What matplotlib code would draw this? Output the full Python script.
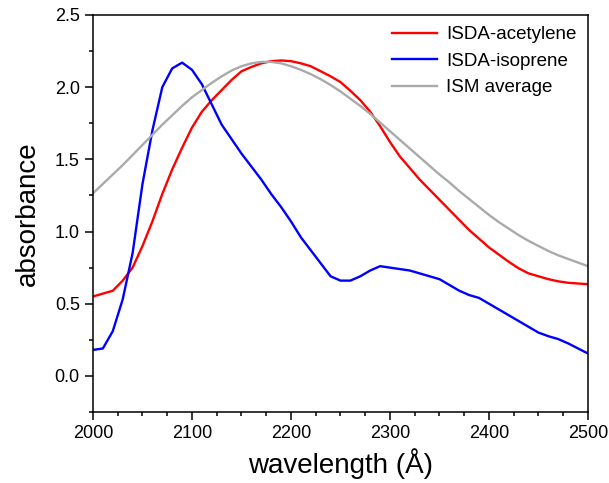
import numpy as np
import matplotlib
matplotlib.use("Agg")
import matplotlib.pyplot as plt
from matplotlib.ticker import MultipleLocator

plt.rcParams["font.family"] = ["Liberation Sans", "DejaVu Sans"]

# wavelength grid (Angstrom)
wavelength = list(range(2000, 2501, 10))

acetylene = [0.55, 0.57, 0.59, 0.66, 0.75, 0.90, 1.07, 1.26, 1.43, 1.58,
             1.72, 1.83, 1.91, 1.98, 2.05, 2.11, 2.14, 2.165, 2.18, 2.185,
             2.18, 2.165, 2.145, 2.11, 2.075, 2.035, 1.975, 1.91, 1.83, 1.73,
             1.62, 1.52, 1.44, 1.36, 1.29, 1.22, 1.15, 1.08, 1.01, 0.95,
             0.89, 0.84, 0.79, 0.745, 0.71, 0.69, 0.67, 0.655, 0.645, 0.64,
             0.635]

isoprene = [0.18, 0.19, 0.31, 0.53, 0.85, 1.33, 1.70, 2.00, 2.13, 2.17,
            2.12, 2.02, 1.88, 1.74, 1.64, 1.54, 1.45, 1.36, 1.26, 1.17,
            1.07, 0.96, 0.87, 0.78, 0.69, 0.66, 0.66, 0.69, 0.73, 0.76,
            0.75, 0.74, 0.73, 0.71, 0.69, 0.67, 0.63, 0.59, 0.56, 0.54,
            0.50, 0.46, 0.42, 0.38, 0.34, 0.30, 0.275, 0.255, 0.225, 0.19,
            0.155]

ism_average = [1.265, 1.33, 1.395, 1.46, 1.53, 1.60, 1.67, 1.74, 1.805, 1.87,
               1.93, 1.98, 2.03, 2.075, 2.115, 2.145, 2.165, 2.175, 2.175, 2.165,
               2.145, 2.12, 2.09, 2.055, 2.015, 1.97, 1.92, 1.87, 1.815, 1.755,
               1.695, 1.635, 1.575, 1.515, 1.455, 1.395, 1.34, 1.28, 1.225, 1.17,
               1.115, 1.065, 1.02, 0.975, 0.935, 0.90, 0.865, 0.835, 0.81, 0.785,
               0.76]

fig = plt.figure(figsize=(6.09, 4.83), dpi=100)
ax = fig.add_axes([0.1527, 0.147, 0.8128, 0.822])

ax.plot(wavelength, acetylene, color="#ff0000", lw=1.7, label="ISDA-acetylene")
ax.plot(wavelength, isoprene, color="#0000ff", lw=1.7, label="ISDA-isoprene")
ax.plot(wavelength, ism_average, color="#aaaaaa", lw=1.7, label="ISM average")

ax.set_xlim(2000, 2500)
ax.set_ylim(-0.25, 2.5)
ax.xaxis.set_major_locator(MultipleLocator(100))
ax.xaxis.set_minor_locator(MultipleLocator(25))
ax.yaxis.set_major_locator(MultipleLocator(0.5))
ax.yaxis.set_minor_locator(MultipleLocator(0.25))
ax.yaxis.set_major_formatter(plt.FormatStrFormatter("%.1f"))

ax.tick_params(which="both", direction="out", top=False, right=False,
               labelsize=13, width=1.1)
ax.tick_params(which="major", length=6)
ax.tick_params(which="minor", length=3)
for s in ax.spines.values():
    s.set_linewidth(1.1)

ax.set_xlabel("wavelength (Å)", fontsize=20, labelpad=4)
ax.set_ylabel("absorbance", fontsize=20, labelpad=10)

ax.legend(loc="upper right", frameon=False, fontsize=13.5, handlelength=2.4,
          handletextpad=0.5, labelspacing=0.5, borderaxespad=0.2)

fig.savefig("out.png", dpi=100)
